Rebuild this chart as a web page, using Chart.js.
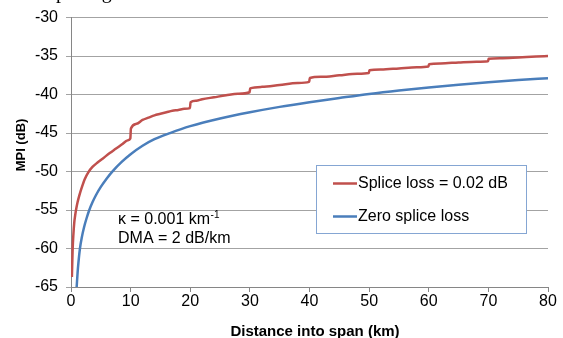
<!DOCTYPE html>
<html>
<head>
<meta charset="utf-8">
<script src="https://cdn.jsdelivr.net/npm/chart.js@4/dist/chart.umd.min.js"></script>
<style>
  html, body { margin: 0; padding: 0; background: #ffffff; }
  #wrap { position: relative; width: 563px; height: 338px; }
</style>
</head>
<body>
<div id="wrap"><canvas id="c" width="563" height="338"></canvas></div>
<script>
// ---- Data ----
const seriesNames = ['Splice loss = 0.02 dB', 'Zero splice loss'];

const distanceSplice = [0.15, 0.28, 0.4, 0.55, 0.7, 0.84, 1.1, 1.4, 1.8, 2.3, 2.9, 3.6, 4.5, 5.5, 6.5, 7.5, 8.5, 9.5, 9.95,
  10.05, 11, 12, 13, 14, 15, 16, 17, 18, 19, 19.95,
  20.05, 21, 22, 24, 26, 28, 29.95,
  30.05, 32, 35, 38, 39.95,
  40.05, 42, 45, 48, 49.95,
  50.05, 52, 55, 58, 59.95,
  60.05, 62, 65, 68, 69.95,
  70.05, 72, 75, 78, 80];
const mpiSplice = [-63.7, -60.0, -58.2, -56.6, -55.7, -55.0, -54.0, -53.1, -52.1, -51.0, -50.1, -49.4, -48.8, -48.2, -47.6, -47.05, -46.5, -45.95, -45.7,
  -44.4, -43.8, -43.3, -43.0, -42.7, -42.5, -42.3, -42.1, -42.0, -41.85, -41.75,
  -41.0, -40.8, -40.6, -40.35, -40.1, -39.9, -39.7,
  -39.2, -39.0, -38.75, -38.5, -38.35,
  -37.85, -37.7, -37.5, -37.3, -37.2,
  -36.85, -36.75, -36.6, -36.45, -36.35,
  -36.05, -35.95, -35.82, -35.72, -35.66,
  -35.36, -35.28, -35.18, -35.06, -35.0];

const distanceZero = [0.95, 1.1, 1.25, 1.5, 1.8, 2.2, 2.6, 3.07, 3.6, 4.2, 5, 6, 7, 8.5, 10, 12, 14, 16.6, 20, 25, 30, 35, 40, 45, 50, 55, 60, 65, 70, 75, 80];
const mpiZero = [-65.0, -63.2, -61.8, -60.0, -58.6, -57.2, -56.1, -55.0, -54.0, -53.05, -52.0, -50.9, -49.95, -48.75, -47.75, -46.65, -45.8, -45.0, -44.1, -43.1, -42.3, -41.6, -41.0, -40.45, -39.92, -39.47, -39.08, -38.72, -38.4, -38.12, -37.88];

const xTickValues = [0, 10, 20, 30, 40, 50, 60, 70, 80];
const yTickValues = [-65, -60, -55, -50, -45, -40, -35, -30];

const xTitle = 'Distance into span (km)';
const yTitle = 'MPI (dB)';
const noteLine1 = '\u03BA = 0.001 km';
const noteLine1Sup = '-1';
const noteLine2 = 'DMA = 2 dB/km';
const clippedHeading = 'Splicing';

// ---- Chart ----
const FONT = "'Liberation Sans', Arial, Helvetica, sans-serif";
Chart.defaults.font.family = FONT;
Chart.defaults.color = '#000000';

const toPoints = (xs, ys) => xs.map((x, i) => ({ x: x, y: ys[i] }));

const colors = ['#C0504D', '#4A7EBB'];

const decorPlugin = {
  id: 'decor',
  afterDraw(chart) {
    const ctx = chart.ctx;
    ctx.save();
    // clipped heading fragment from the page above the chart
    ctx.fillStyle = '#000';
    ctx.font = "20px 'Liberation Serif', 'Times New Roman', serif";
    ctx.textAlign = 'left';
    ctx.textBaseline = 'alphabetic';
    ctx.fillText(clippedHeading, 45, -2);

    // axis titles
    ctx.font = "bold 15px " + FONT;
    ctx.textAlign = 'center';
    ctx.textBaseline = 'middle';
    ctx.fillText(xTitle, 315, 332);
    ctx.save();
    ctx.translate(21, 145);
    ctx.rotate(-Math.PI / 2);
    ctx.font = "bold 13px " + FONT;
    ctx.fillText(yTitle, 0, 0);
    ctx.restore();

    // note text
    ctx.font = "16px " + FONT;
    ctx.textAlign = 'left';
    ctx.textBaseline = 'middle';
    ctx.fillText(noteLine1, 118, 220);
    const w1 = ctx.measureText(noteLine1).width;
    ctx.font = "10px " + FONT;
    ctx.fillText(noteLine1Sup, 118 + w1 + 0.5, 215);
    ctx.font = "16px " + FONT;
    ctx.fillText(noteLine2, 118, 238.5);

    // legend box
    const bx = 316.5, by = 165.5, bw = 210, bh = 68;
    ctx.fillStyle = '#ffffff';
    ctx.fillRect(bx, by, bw, bh);
    ctx.strokeStyle = '#85A6D3';
    ctx.lineWidth = 1;
    ctx.strokeRect(bx, by, bw, bh);
    const itemsY = [183.5, 216.5];
    chart.data.datasets.forEach((ds, i) => {
      ctx.strokeStyle = ds.borderColor;
      ctx.lineWidth = 2.5;
      ctx.beginPath();
      ctx.moveTo(333, itemsY[i]);
      ctx.lineTo(357, itemsY[i]);
      ctx.stroke();
      ctx.fillStyle = '#000';
      ctx.font = "16px " + FONT;
      ctx.textAlign = 'left';
      ctx.textBaseline = 'middle';
      ctx.fillText(ds.label, 358, itemsY[i]);
    });
    ctx.restore();
  }
};

new Chart(document.getElementById('c'), {
  type: 'line',
  data: {
    datasets: [
      {
        label: seriesNames[0],
        data: toPoints(distanceSplice, mpiSplice),
        borderColor: colors[0],
        backgroundColor: colors[0],
        borderWidth: 2.5,
        pointRadius: 0,
        cubicInterpolationMode: 'monotone',
        fill: false
      },
      {
        label: seriesNames[1],
        data: toPoints(distanceZero, mpiZero),
        borderColor: colors[1],
        backgroundColor: colors[1],
        borderWidth: 2.5,
        pointRadius: 0,
        cubicInterpolationMode: 'monotone',
        fill: false
      }
    ]
  },
  options: {
    responsive: false,
    animation: false,
    devicePixelRatio: 1,
    layout: { padding: { left: 0, right: 15, top: 14, bottom: 0 } },
    plugins: {
      legend: { display: false },
      tooltip: { enabled: false },
      title: { display: false }
    },
    scales: {
      x: {
        type: 'linear',
        min: 0,
        max: 80,
        afterBuildTicks: (scale) => { scale.ticks = xTickValues.map(v => ({ value: v })); },
        ticks: { font: { size: 16 }, color: '#000', padding: 0, maxRotation: 0 },
        grid: { drawOnChartArea: false, drawTicks: true, tickLength: 5, color: '#868686' },
        border: { display: true, color: '#868686', width: 1 },
        afterFit: (scale) => { scale.height = 51; }
      },
      y: {
        type: 'linear',
        min: -65,
        max: -30,
        afterBuildTicks: (scale) => { scale.ticks = yTickValues.map(v => ({ value: v })); },
        ticks: { font: { size: 16 }, color: '#000', padding: 8 },
        grid: { drawOnChartArea: true, drawTicks: true, tickLength: 5, color: '#a3a3a3' },
        border: { display: true, color: '#868686', width: 1 },
        afterFit: (scale) => { scale.width = 71; }
      }
    }
  },
  plugins: [decorPlugin]
});
</script>
</body>
</html>
